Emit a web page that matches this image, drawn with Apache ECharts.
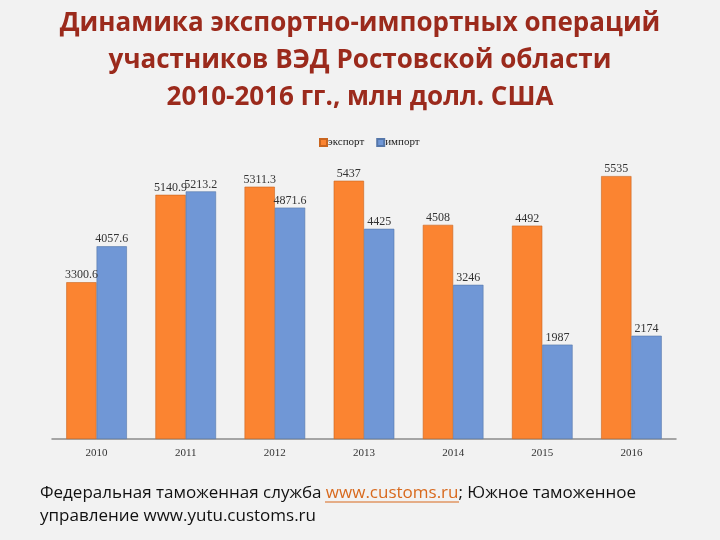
<!DOCTYPE html>
<html>
<head>
<meta charset="utf-8">
<script src="https://cdn.jsdelivr.net/npm/echarts@6/dist/echarts.min.js"></script>
<style>
  html, body { margin: 0; padding: 0; }
  #chart { width: 720px; height: 540px; }
</style>
</head>
<body>
<div id="chart"></div>
<script>
// years
const years = ['2010', '2011', '2012', '2013', '2014', '2015', '2016']
// экспорт / импорт, млн долл. США
const exportValues = [3300.6, 5140.9, 5311.3, 5437, 4508, 4492, 5535]
const importValues = [4057.6, 5213.2, 4871.6, 4425, 3246, 1987, 2174]

const serif = '"Liberation Serif", "DejaVu Serif", serif'
const sans = '"Open Sans", sans-serif'
const titleColor = '#9b2a1c'
const linkColor = '#d8691d'

const chart = echarts.init(document.getElementById('chart'))
chart.setOption({
  backgroundColor: '#f2f2f2',
  animation: false,
  title: [
    {
      text: 'Динамика экспортно-импортных операций\nучастников ВЭД Ростовской области\n2010-2016 гг., млн долл. США',
      left: 'center',
      top: 0,
      textStyle: {
        fontFamily: sans,
        fontWeight: 'bold',
        fontSize: 26,
        lineHeight: 37,
        color: titleColor,
        align: 'center'
      }
    },
    {
      // source note
      text: '{a|Федеральная таможенная служба }{l|www.customs.ru}{a|; Южное таможенное}\n{a|управление www.yutu.customs.ru}',
      left: 35,
      top: 477,
      textStyle: {
        fontWeight: 'normal',
        rich: {
          a: { fontFamily: sans, fontSize: 17, fontWeight: 'normal', color: '#111', lineHeight: 23 },
          l: { fontFamily: sans, fontSize: 17, fontWeight: 'normal', color: linkColor, lineHeight: 23 }
        }
      }
    }
  ],
  graphic: [
    {
      // underline of the link
      type: 'line',
      shape: { x1: 325, y1: 502, x2: 459, y2: 502 },
      style: { stroke: linkColor, lineWidth: 1 }
    }
  ],
  legend: {
    top: 132,
    left: 314,
    itemWidth: 7,
    itemHeight: 7,
    itemGap: 12,
    icon: 'rect',
    textStyle: { fontFamily: serif, fontSize: 11, color: '#222', padding: [0, 0, 0, -4] },
    data: ['экспорт', 'импорт']
  },
  grid: { left: 52, right: 44, top: 154, bottom: 101 },
  xAxis: {
    type: 'category',
    data: years,
    axisLine: { lineStyle: { color: '#8c8c8c', width: 1.5 } },
    axisTick: { show: false },
    axisLabel: { fontFamily: serif, fontSize: 11, color: '#333', margin: 9 }
  },
  yAxis: {
    type: 'value',
    min: 0,
    max: 6000,
    show: false,
    splitLine: { show: false }
  },
  series: [
    {
      name: 'экспорт',
      type: 'bar',
      data: exportValues,
      barGap: '0%',
      barCategoryGap: '32%',
      itemStyle: { color: '#fb8431', borderColor: '#c9651f', borderWidth: 0.6 },
      label: { show: true, position: 'top', distance: 1, fontFamily: serif, fontSize: 12, color: '#333' }
    },
    {
      name: 'импорт',
      type: 'bar',
      data: importValues,
      itemStyle: { color: '#7097d6', borderColor: '#5577aa', borderWidth: 0.6 },
      label: { show: true, position: 'top', distance: 1, fontFamily: serif, fontSize: 12, color: '#333' }
    }
  ]
})
</script>
</body>
</html>
